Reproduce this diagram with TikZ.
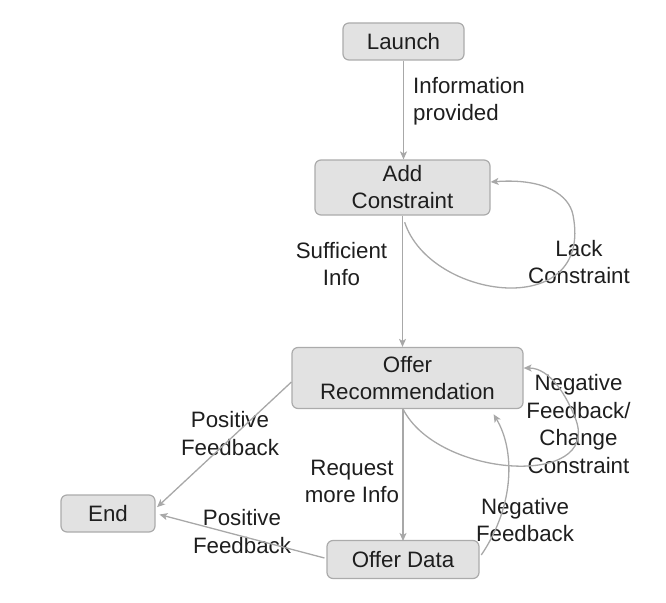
\documentclass[tikz,border=0pt]{standalone}
\usepackage{fontspec}
\setmainfont{Liberation Sans}
\usetikzlibrary{arrows.meta}
\definecolor{boxfill}{HTML}{E2E2E2}
\definecolor{boxline}{HTML}{ABABAB}
\definecolor{conncol}{HTML}{A8A8A8}
\definecolor{txt}{HTML}{1E1E1E}
\tikzset{
  state/.style={draw=boxline, fill=boxfill, line width=1.2pt, rounded corners=6pt,
    inner sep=0pt, align=center, text=txt, font=\fontsize{22.3}{27}\selectfont},
  lbl/.style={inner sep=0pt, align=center, text=txt, font=\fontsize{22.3}{27.5}\selectfont},
  conn/.style={draw=conncol, line width=1.3pt, -{Stealth[length=8pt,width=7pt,inset=2pt]}},
}
\begin{document}
\begin{tikzpicture}[x=1pt,y=-1pt]
\useasboundingbox (0,0) rectangle (666,602);
% states
\node[state, minimum width=121pt, minimum height=37pt] (launch) at (403.5,41.5) {Launch};
\node[state, minimum width=175pt, minimum height=55pt] (ac) at (402.5,187.5) {Add\\Constraint};
\node[state, minimum width=231pt, minimum height=61pt] (or) at (407.5,378) {Offer\\Recommendation};
\node[state, minimum width=94pt, minimum height=37pt] (end) at (108,513.5) {End};
\node[state, minimum width=152pt, minimum height=38pt] (od) at (403,559.5) {Offer Data};
% labels
\node[lbl, anchor=west, align=left] (l1) at (413,101) {Information\\provided};
\node[lbl] (l2) at (341.5,264) {Sufficient\\Info};
\node[lbl] (l3) at (579,262) {Lack\\Constraint};
\node[lbl] (l4) at (578.5,424) {Negative\\Feedback/\\Change\\Constraint};
\node[lbl] (l5) at (352,481.5) {Request\\more Info};
\node[lbl] (l6) at (525,520) {Negative\\Feedback};
\node[lbl] (l7) at (230,433.5) {Positive\\Feedback};
\node[lbl] (l8) at (242,531.5) {Positive\\Feedback};
% connectors
\draw[conn] (launch.south) -- (launch.south |- ac.north);
\draw[conn] (ac.south) -- (ac.south |- or.north);
\draw[conn, shorten <=7pt] (ac.south) .. controls (430,300) and (594,322) .. (573,215)
  .. controls (569,195) and (545,178) .. ([yshift=5.5pt]ac.east);
\draw[conn] (403,409) -- (403,541);
\draw[conn] (403,409) .. controls (438,478) and (600,488) .. (576,420)
  .. controls (567,396) and (550,368) .. ([yshift=10pt]or.east);
\draw[conn, shorten <=3pt, shorten >=6pt] ([yshift=2pt]od.east) .. controls (515,505) and (515,450) .. ([xshift=83pt]or.south);
\draw[conn, shorten >=2pt] ([yshift=-4pt]or.west) -- ([yshift=5pt]end.east);
\draw[conn, shorten <=2pt, shorten >=4pt] ([yshift=1pt]od.west) -- (end.east);
\end{tikzpicture}
\end{document}
